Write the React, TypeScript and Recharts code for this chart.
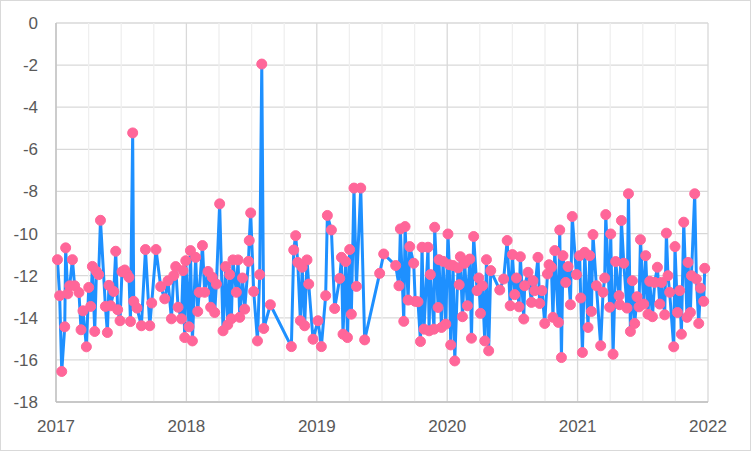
import React from 'react';
import {
  LineChart,
  Line,
  XAxis,
  YAxis,
  CartesianGrid,
  ReferenceLine,
} from 'recharts';

// decimal years
const dates = [
  2017.011, 2017.028, 2017.044, 2017.067, 2017.074, 2017.09, 2017.105, 2017.126, 2017.143, 2017.176,
  2017.192, 2017.207, 2017.233, 2017.251, 2017.266, 2017.279, 2017.297, 2017.31, 2017.327, 2017.341,
  2017.379, 2017.394, 2017.406, 2017.419, 2017.443, 2017.458, 2017.473, 2017.491, 2017.506, 2017.527,
  2017.544, 2017.56, 2017.571, 2017.588, 2017.596, 2017.621, 2017.655, 2017.686, 2017.719, 2017.734,
  2017.767, 2017.803, 2017.834, 2017.859, 2017.885, 2017.903, 2017.918, 2017.936, 2017.962, 2017.974,
  2017.987, 2017.995, 2018.02, 2018.031, 2018.046, 2018.071, 2018.087, 2018.098, 2018.123, 2018.14,
  2018.166, 2018.186, 2018.198, 2018.217, 2018.23, 2018.255, 2018.281, 2018.301, 2018.317, 2018.332,
  2018.345, 2018.357, 2018.383, 2018.396, 2018.409, 2018.43, 2018.447, 2018.476, 2018.482, 2018.493,
  2018.516, 2018.545, 2018.562, 2018.578, 2018.593, 2018.644, 2018.805, 2018.823, 2018.838, 2018.854,
  2018.874, 2018.888, 2018.907, 2018.925, 2018.938, 2018.971, 2019.009, 2019.035, 2019.068, 2019.081,
  2019.112, 2019.137, 2019.176, 2019.189, 2019.201, 2019.222, 2019.235, 2019.252, 2019.265, 2019.285,
  2019.304, 2019.337, 2019.367, 2019.482, 2019.513, 2019.605, 2019.63, 2019.641, 2019.667, 2019.677,
  2019.7, 2019.713, 2019.743, 2019.755, 2019.776, 2019.795, 2019.807, 2019.822, 2019.853, 2019.861,
  2019.871, 2019.899, 2019.904, 2019.93, 2019.937, 2019.956, 2019.968, 2019.989, 2020.006, 2020.016,
  2020.027, 2020.045, 2020.058, 2020.083, 2020.092, 2020.101, 2020.117, 2020.134, 2020.155, 2020.173,
  2020.186, 2020.203, 2020.229, 2020.242, 2020.255, 2020.27, 2020.288, 2020.301, 2020.318, 2020.334,
  2020.403, 2020.433, 2020.46, 2020.483, 2020.5, 2020.518, 2020.531, 2020.551, 2020.561, 2020.587,
  2020.594, 2020.62, 2020.646, 2020.658, 2020.671, 2020.696, 2020.709, 2020.727, 2020.748, 2020.769,
  2020.781, 2020.799, 2020.811, 2020.825, 2020.853, 2020.863, 2020.876, 2020.888, 2020.909, 2020.927,
  2020.945, 2020.959, 2020.991, 2021.016, 2021.024, 2021.037, 2021.055, 2021.08, 2021.093, 2021.106,
  2021.118, 2021.144, 2021.177, 2021.195, 2021.208, 2021.216, 2021.246, 2021.254, 2021.272, 2021.292,
  2021.318, 2021.323, 2021.336, 2021.354, 2021.379, 2021.39, 2021.405, 2021.42, 2021.438, 2021.456,
  2021.471, 2021.482, 2021.507, 2021.522, 2021.54, 2021.553, 2021.574, 2021.591, 2021.612, 2021.63,
  2021.643, 2021.668, 2021.681, 2021.693, 2021.706, 2021.737, 2021.747, 2021.766, 2021.783, 2021.796,
  2021.814, 2021.839, 2021.847, 2021.865, 2021.873, 2021.898, 2021.911, 2021.929, 2021.942, 2021.967,
  2021.975,
];

const values = [
  -11.24, -12.95, -16.55, -14.43, -10.68, -12.86, -12.48, -11.24, -12.48, -12.8,
  -14.57, -13.67, -15.38, -12.56, -13.46, -11.56, -14.65, -11.8, -11.95, -9.37,
  -13.46, -14.7, -12.46, -13.43, -12.75, -10.84, -13.62, -14.14, -11.81, -11.73,
  -11.92, -12.08, -14.18, -5.22, -13.22, -13.54, -14.38, -10.76, -14.38, -13.3,
  -10.76, -12.52, -13.1, -12.24, -14.05, -12.0, -11.57, -13.5, -14.05, -11.76,
  -14.94, -11.29, -14.43, -10.81, -15.1, -11.13, -13.7, -12.79, -10.57, -12.79,
  -11.8, -13.5, -12.08, -13.75, -12.4, -8.59, -14.62, -11.57, -14.33, -11.95,
  -14.05, -11.25, -12.79, -11.25, -13.98, -12.11, -13.59, -11.32, -10.33, -9.02,
  -12.75, -15.1, -11.95, -1.95, -14.51, -13.38, -15.37, -10.78, -10.1, -11.37,
  -14.14, -11.6, -14.38, -11.25, -12.4, -15.02, -14.14, -15.37, -12.95, -9.14,
  -9.83, -13.56, -12.13, -11.13, -14.78, -11.33, -14.94, -10.76, -13.83, -7.84,
  -12.51, -7.84, -15.05, -11.89, -10.97, -11.52, -12.48, -9.78, -14.17, -9.67,
  -13.16, -10.62, -11.41, -13.22, -13.24, -15.13, -10.65, -14.54, -10.65, -14.62,
  -11.95, -14.54, -9.7, -13.51, -11.24, -14.46, -11.32, -14.3, -10.02, -11.48,
  -15.29, -11.52, -16.05, -11.63, -12.43, -11.1, -13.95, -11.41, -13.43, -11.21,
  -14.97, -10.14, -12.71, -12.11, -13.79, -12.48, -15.1, -11.24, -15.57, -11.76,
  -12.68, -12.16, -10.33, -13.43, -11.0, -12.9, -12.11, -13.48, -11.1, -14.06,
  -12.48, -11.84, -13.27, -12.24, -12.71, -11.13, -13.32, -12.71, -14.27, -11.92,
  -11.48, -11.6, -13.98, -10.81, -14.22, -9.83, -15.89, -11.05, -12.32, -11.57,
  -13.38, -9.19, -11.95, -11.05, -13.06, -15.65, -10.89, -14.46, -11.05, -13.7,
  -10.05, -12.48, -15.33, -12.79, -12.11, -9.1, -13.5, -10.02, -15.73, -11.33,
  -12.95, -13.38, -9.38, -11.41, -13.54, -8.11, -14.65, -12.24, -14.27, -13.0,
  -13.48, -10.29, -13.35, -11.05, -13.83, -12.27, -13.95, -12.32, -11.6, -13.35,
  -12.32, -13.86, -9.98, -12.0, -12.79, -15.38, -10.62, -13.75, -12.71, -14.78,
  -9.46, -13.98, -11.37, -13.75, -12.0, -8.11, -12.16, -14.27, -12.59, -13.22,
  -11.65,
];

const yearTicks = [2017, 2018, 2019, 2020, 2021, 2022];
const quarterTicks = [
  2017.25, 2017.5, 2017.75, 2018.25, 2018.5, 2018.75, 2019.25, 2019.5, 2019.75,
  2020.25, 2020.5, 2020.75, 2021.25, 2021.5, 2021.75,
];
const valueTicks = [-18, -16, -14, -12, -10, -8, -6, -4, -2, 0];

const data = dates.map((t, i) => ({ t, v: values[i] }));

const font = '"Liberation Sans", Arial, sans-serif';
const tickStyle = { fill: '#595959', fontSize: 17, fontFamily: font };

export default function App() {
  return (
    <div style={{ position: 'absolute', left: 0, top: 0, width: 752, height: 452 }}>
      <div
        style={{
          position: 'absolute',
          left: 0,
          top: 0,
          width: 751,
          height: 451,
          border: '1px solid #D9D9D9',
          boxSizing: 'border-box',
        }}
      />
      <div style={{ position: 'absolute', left: 0, top: 0 }}>
        <LineChart
          width={752}
          height={452}
          data={data}
          margin={{ top: 23, right: 44, bottom: 20, left: 0 }}
        >
          {quarterTicks.map((q) => (
            <ReferenceLine key={q} x={q} stroke="#EFEFEF" strokeWidth={1.3} />
          ))}
          <CartesianGrid stroke="#D9D9D9" strokeWidth={1.3} />
          <XAxis
            type="number"
            dataKey="t"
            domain={[2017, 2022]}
            ticks={yearTicks}
            height={30}
            tickLine={false}
            tickSize={0}
            tickMargin={18}
            axisLine={{ stroke: '#BFBFBF', strokeWidth: 1.3 }}
            tick={tickStyle}
          />
          <YAxis
            type="number"
            domain={[-18, 0]}
            ticks={valueTicks}
            width={56}
            tickLine={false}
            tickSize={0}
            tickMargin={18}
            axisLine={{ stroke: '#BFBFBF', strokeWidth: 1.3 }}
            tick={tickStyle}
          />
          <Line
            type="linear"
            dataKey="v"
            stroke="#1E90FF"
            strokeWidth={3}
            dot={{ r: 5, fill: '#FF6699', stroke: '#FF6699', strokeWidth: 1 }}
            activeDot={false}
            isAnimationActive={false}
          />
        </LineChart>
      </div>
    </div>
  );
}
